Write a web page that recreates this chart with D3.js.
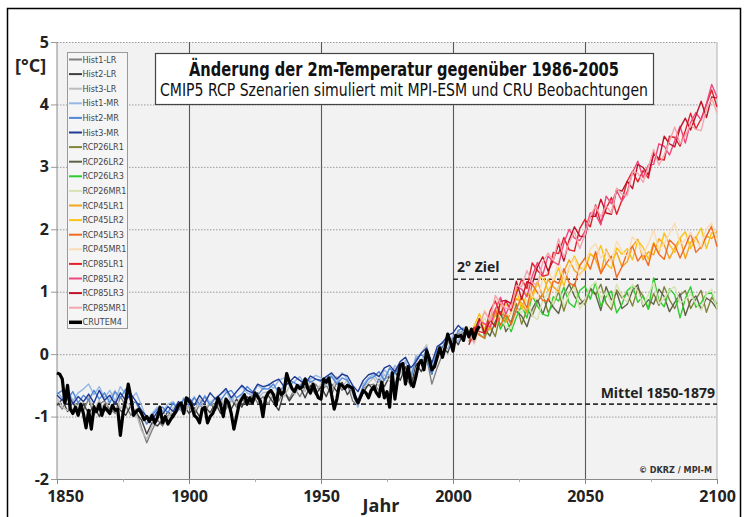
<!DOCTYPE html>
<html>
<head>
<meta charset="utf-8">
<script src="https://cdn.jsdelivr.net/npm/d3@7"></script>
<style>
  body { margin: 0; background: #fff; }
  svg text { font-family: "Open Sans", "DejaVu Sans", sans-serif; }
  .narrow { font-family: "Liberation Sans Narrow", "DejaVu Sans Condensed", "Open Sans", sans-serif !important; }
</style>
</head>
<body>
<svg id="chart" width="747" height="517"></svg>
<script>
// x categories
var histYears = d3.range(1850, 2005, 2);   // 1850..2004
var rcpYears = d3.range(2006, 2101, 2);    // 2006..2100
var obsYears = d3.range(1850, 2011);       // 1850..2010
var xTicks = [1850, 1900, 1950, 2000, 2050, 2100];
var xMinor = [1875, 1925, 1975, 2025, 2075];
var yTicks = [-2, -1, 0, 1, 2, 3, 4, 5];
var zielLevel = 1.2;     // 2° Ziel
var mittelLevel = -0.8;  // Mittel 1850-1879

// CRUTEM4 Beobachtungen (jährlich)
var crutem4 = [
  -0.30, -0.32, -0.40, -0.78, -0.50, -0.88, -0.95, -0.85, -0.98, -0.80,
  -0.95, -1.18, -0.90, -1.20, -0.85, -0.92, -0.80, -0.98, -0.85, -0.90,
  -0.95, -0.82, -0.90, -0.88, -1.30, -0.95, -0.75, -0.48, -0.70, -0.98,
  -0.92, -0.88, -0.95, -1.05, -1.00, -1.08, -0.98, -1.10, -1.02, -0.85,
  -1.10, -1.00, -1.12, -1.05, -0.98, -0.92, -0.82, -0.78, -0.95, -0.70,
  -0.75, -0.82, -0.98, -1.02, -1.10, -0.88, -0.85, -1.10, -1.00, -0.95,
  -0.85, -0.70, -0.82, -1.00, -0.72, -0.78, -0.95, -1.20, -1.00, -0.80,
  -0.72, -0.65, -0.80, -0.70, -0.78, -0.62, -0.68, -0.75, -1.00, -0.70,
  -0.62, -0.58, -0.65, -0.82, -0.55, -0.65, -0.60, -0.31, -0.45, -0.55,
  -0.60, -0.50, -0.55, -0.52, -0.40, -0.55, -0.62, -0.48, -0.60, -0.70,
  -0.72, -0.40, -0.45, -0.38, -0.65, -0.88, -0.72, -0.48, -0.50, -0.55,
  -0.50, -0.52, -0.55, -0.70, -0.78, -0.68, -0.58, -0.62, -0.70, -0.58,
  -0.52, -0.62, -0.68, -0.45, -0.70, -0.60, -0.85, -0.30, -0.72, -0.40,
  -0.18, -0.15, -0.48, -0.20, -0.45, -0.52, -0.35, -0.15, -0.10, -0.25,
   0.05, -0.08, -0.25, -0.20, -0.05,  0.10, -0.05,  0.10,  0.32,  0.20,
   0.05,  0.30,  0.28,  0.30,  0.22,  0.42,  0.28,  0.40,  0.25,  0.38,
   0.45
];

// historische Läufe (alle 2 Jahre, 1850-2004)
var hist1LR = [
  -0.78, -0.88, -0.70, -0.92, -0.78, -0.90, -0.72, -0.98, -0.80, -0.75,
  -0.88, -0.95, -0.68, -0.82, -0.98, -0.88, -1.18, -1.42, -1.22, -1.05,
  -1.15, -0.98, -0.95, -0.85, -0.95, -0.82, -0.98, -0.80, -0.92, -0.78,
  -0.90, -0.75, -0.88, -0.72, -0.85, -0.70, -0.82, -0.65, -0.78, -0.68,
  -0.80, -0.62, -0.75, -0.58, -0.72, -0.55, -0.68, -0.52, -0.65, -0.48,
  -0.60, -0.50, -0.65, -0.45, -0.58, -0.48, -0.75, -0.82, -0.55, -0.50,
  -0.48, -0.58, -0.40, -0.35, -0.48, -0.25, -0.38, -0.50, -0.28, -0.12,
  -0.05, -0.48, -0.22,  0.00,  0.18,  0.20,  0.32,  0.38
];
var hist2LR = [
  -0.82, -0.72, -0.92, -0.76, -0.98, -0.80, -0.95, -0.82, -1.00, -0.80,
  -0.92, -0.75, -0.90, -0.98, -0.82, -0.95, -1.05, -1.28, -1.10, -1.15,
  -1.05, -0.92, -1.02, -0.88, -0.82, -0.95, -0.86, -1.00, -0.84, -0.94,
  -0.78, -0.95, -0.76, -0.88, -0.72, -0.85, -0.68, -0.80, -0.62, -0.84,
  -0.66, -0.78, -0.90, -0.60, -0.75, -0.62, -0.52, -0.70, -0.50, -0.65,
  -0.52, -0.68, -0.48, -0.60, -0.45, -0.65, -0.52, -0.80, -0.62, -0.48,
  -0.58, -0.40, -0.52, -0.35, -0.28, -0.42, -0.20, -0.52, -0.15, -0.28,
  -0.08, -0.32, -0.02,  0.12,  0.02,  0.28,  0.15,  0.35
];
var hist3LR = [
  -0.70, -0.85, -0.90, -0.72, -0.88, -0.76, -0.68, -0.90, -0.74, -0.92,
  -0.70, -0.58, -0.88, -0.76, -0.84, -0.96, -1.22, -1.36, -1.15, -0.98,
  -0.90, -1.04, -0.86, -0.78, -0.98, -0.80, -0.92, -0.72, -0.88, -0.76,
  -0.84, -0.70, -0.82, -0.68, -0.80, -0.66, -0.78, -0.60, -0.72, -0.62,
  -0.60, -0.72, -0.56, -0.68, -0.52, -0.65, -0.48, -0.60, -0.42, -0.58,
  -0.48, -0.40, -0.58, -0.36, -0.52, -0.42, -0.62, -0.78, -0.52, -0.46,
  -0.38, -0.52, -0.32, -0.44, -0.22, -0.32, -0.12, -0.42, -0.08,  0.02,
   0.15, -0.22, -0.08,  0.08,  0.22,  0.12,  0.38,  0.28
];
var hist1MR = [
  -0.60, -0.70, -0.55, -0.75, -0.62, -0.56, -0.48, -0.65, -0.52, -0.70,
  -0.58, -0.75, -0.52, -0.65, -0.72, -0.62, -0.82, -1.05, -0.95, -0.85,
  -0.92, -0.80, -0.76, -0.88, -0.70, -0.80, -0.68, -0.84, -0.66, -0.78,
  -0.70, -0.64, -0.58, -0.76, -0.60, -0.52, -0.62, -0.66, -0.50, -0.56,
  -0.48, -0.55, -0.42, -0.38, -0.50, -0.44, -0.36, -0.48, -0.40, -0.34,
  -0.38, -0.50, -0.32, -0.45, -0.30, -0.40, -0.64, -0.85, -0.48, -0.38,
  -0.32, -0.45, -0.25, -0.35, -0.18, -0.28, -0.10, -0.35, -0.02, -0.12,
   0.08, -0.18,  0.05,  0.20,  0.08,  0.30,  0.20,  0.42
];
var hist2MR = [
  -0.64, -0.58, -0.72, -0.60, -0.78, -0.66, -0.74, -0.58, -0.72, -0.62,
  -0.78, -0.60, -0.70, -0.56, -0.75, -0.78, -0.96, -1.12, -0.98, -0.88,
  -0.85, -0.94, -0.78, -0.90, -0.72, -0.82, -0.70, -0.80, -0.68, -0.82,
  -0.70, -0.74, -0.62, -0.58, -0.70, -0.64, -0.52, -0.60, -0.66, -0.55,
  -0.56, -0.48, -0.62, -0.50, -0.42, -0.46, -0.52, -0.38, -0.45, -0.40,
  -0.44, -0.40, -0.36, -0.48, -0.38, -0.42, -0.58, -0.74, -0.52, -0.40,
  -0.36, -0.28, -0.42, -0.22, -0.32, -0.15, -0.28, -0.38, -0.08,  0.00,
  -0.10, -0.32,  0.08,  0.12,  0.25,  0.16,  0.38,  0.42
];
var hist3MR = [
  -0.66, -0.74, -0.60, -0.80, -0.68, -0.76, -0.64, -0.78, -0.58, -0.74,
  -0.66, -0.80, -0.62, -0.74, -0.64, -0.76, -0.90, -1.00, -1.06, -0.92,
  -0.96, -0.84, -0.92, -0.76, -0.84, -0.70, -0.82, -0.66, -0.78, -0.62,
  -0.72, -0.64, -0.55, -0.70, -0.60, -0.50, -0.58, -0.62, -0.48, -0.52,
  -0.50, -0.44, -0.40, -0.52, -0.45, -0.36, -0.42, -0.48, -0.35, -0.40,
  -0.42, -0.36, -0.30, -0.40, -0.32, -0.35, -0.50, -0.60, -0.42, -0.33,
  -0.30, -0.36, -0.22, -0.18, -0.28, -0.12, -0.05, -0.22, -0.12,  0.02,
   0.10, -0.14,  0.12,  0.18,  0.30,  0.34,  0.46,  0.38
];

// RCP Szenarien (alle 2 Jahre, 2006-2100)
var rcp26LR1 = [
  0.20, 0.38, 0.57, 0.28, 0.45, 0.28, 0.65, 0.61, 0.51, 0.81,
  0.48, 0.71, 0.61, 0.84, 0.96, 0.67, 0.80, 1.00, 0.69, 0.97,
  1.13, 0.89, 0.79, 1.03, 0.95, 1.12, 0.82, 0.71, 1.03, 0.90,
  0.98, 0.77, 1.06, 0.93, 0.72, 0.97, 0.78, 1.08, 0.87, 0.73,
  0.94, 1.02, 0.73, 0.88, 1.02, 0.67, 0.91, 0.80
];
var rcp26LR2 = [
  0.38, 0.23, 0.50, 0.40, 0.29, 0.52, 0.68, 0.36, 0.49, 0.69,
  0.61, 0.44, 0.72, 0.88, 0.64, 0.89, 0.75, 0.65, 0.95, 1.12,
  0.93, 0.80, 0.87, 1.06, 0.96, 0.70, 1.08, 0.87, 0.99, 0.73,
  0.80, 1.02, 1.11, 0.76, 0.87, 0.80, 1.04, 0.92, 0.68, 0.83,
  0.97, 0.62, 0.86, 0.93, 0.72, 0.90, 0.84, 0.72
];
var rcp26LR3 = [
  0.30, 0.43, 0.32, 0.25, 0.55, 0.66, 0.40, 0.58, 0.36, 0.59,
  0.78, 0.58, 0.94, 0.77, 0.64, 0.61, 0.92, 0.85, 1.07, 0.82,
  0.75, 1.02, 1.09, 0.88, 1.15, 0.77, 0.92, 1.01, 0.66, 0.80,
  1.02, 1.09, 0.83, 0.93, 0.72, 1.22, 0.86, 0.76, 1.05, 0.95,
  0.58, 0.89, 1.08, 0.75, 0.82, 0.97, 0.98, 0.75
];
var rcp26MR1 = [
  0.38, 0.16, 0.40, 0.58, 0.38, 0.74, 0.58, 0.44, 0.41, 0.72,
  0.66, 0.87, 0.62, 0.55, 0.87, 0.97, 0.80, 1.10, 0.77, 0.95,
  1.08, 0.72, 0.87, 1.08, 1.16, 0.90, 1.00, 0.79, 1.12, 0.93,
  0.83, 1.12, 1.01, 0.79, 0.95, 1.15, 0.81, 0.89, 1.03, 1.08,
  0.82, 0.87, 0.96, 0.81, 0.70, 0.97, 1.04, 0.73
];
var rcp45LR1 = [
  0.40, 0.27, 0.55, 0.48, 0.39, 0.64, 0.81, 0.51, 0.67, 0.89,
  0.82, 0.67, 0.97, 1.16, 0.93, 1.20, 1.08, 1.00, 1.32, 1.51,
  1.34, 1.27, 1.39, 1.61, 1.52, 1.29, 1.68, 1.50, 1.63, 1.40,
  1.48, 1.73, 1.84, 1.51, 1.64, 1.59, 1.85, 1.75, 1.53, 1.70,
  1.86, 1.53, 1.79, 1.88, 1.69, 1.89, 1.85, 1.97
];
var rcp45LR2 = [
  0.25, 0.45, 0.65, 0.39, 0.58, 0.43, 0.81, 0.79, 0.72, 1.04,
  0.72, 0.97, 0.89, 1.15, 1.28, 1.01, 1.16, 1.38, 1.09, 1.39,
  1.57, 1.39, 1.34, 1.61, 1.54, 1.74, 1.45, 1.37, 1.70, 1.60,
  1.69, 1.51, 1.82, 1.71, 1.52, 1.79, 1.62, 1.94, 1.75, 1.63,
  1.86, 1.96, 1.69, 1.86, 2.02, 1.69, 1.95, 1.87
];
var rcp45LR3 = [
  0.25, 0.40, 0.30, 0.26, 0.58, 0.71, 0.46, 0.66, 0.47, 0.72,
  0.92, 0.74, 1.12, 0.98, 0.86, 0.85, 1.18, 1.13, 1.37, 1.14,
  1.09, 1.42, 1.54, 1.36, 1.64, 1.29, 1.45, 1.57, 1.23, 1.40,
  1.63, 1.73, 1.49, 1.61, 1.42, 1.77, 1.60, 1.52, 1.83, 1.75,
  1.54, 1.73, 1.94, 1.63, 1.72, 1.89, 2.05, 1.72
];
var rcp45MR1 = [
  0.45, 0.25, 0.50, 0.71, 0.53, 0.91, 0.76, 0.64, 0.64, 0.97,
  0.92, 1.15, 0.92, 0.88, 1.21, 1.33, 1.18, 1.50, 1.19, 1.39,
  1.54, 1.24, 1.44, 1.68, 1.77, 1.54, 1.65, 1.47, 1.81, 1.65,
  1.56, 1.88, 1.79, 1.59, 1.77, 1.99, 1.67, 1.77, 1.93, 2.10,
  1.76, 1.83, 1.94, 1.81, 1.72, 2.01, 2.10, 1.82
];
var rcp85LR1 = [
  0.25, 0.43, 0.36, 0.34, 0.69, 0.85, 0.63, 0.86, 0.69, 0.97,
  1.20, 1.05, 1.46, 1.34, 1.25, 1.27, 1.63, 1.61, 1.87, 1.67,
  1.65, 2.01, 2.16, 2.04, 2.39, 2.10, 2.33, 2.51, 2.24, 2.47,
  2.77, 2.93, 2.76, 2.94, 2.82, 3.23, 3.13, 3.11, 3.49, 3.47,
  3.33, 3.58, 3.86, 3.61, 3.77, 4.00, 4.23, 3.96
];
var rcp85LR2 = [
  0.32, 0.22, 0.53, 0.49, 0.43, 0.71, 0.91, 0.64, 0.83, 1.08,
  1.04, 0.92, 1.25, 1.47, 1.27, 1.57, 1.48, 1.43, 1.78, 2.00,
  1.86, 1.82, 1.97, 2.26, 2.24, 2.07, 2.53, 2.41, 2.62, 2.45,
  2.60, 2.91, 3.09, 2.83, 3.03, 3.04, 3.37, 3.33, 3.19, 3.42,
  3.65, 3.38, 3.71, 3.87, 3.75, 4.01, 4.32, 4.12
];
var rcp85LR3 = [
  0.15, 0.33, 0.57, 0.33, 0.55, 0.44, 0.85, 0.86, 0.81, 1.17,
  0.88, 1.16, 1.12, 1.40, 1.56, 1.33, 1.51, 1.76, 1.49, 1.83,
  2.04, 1.89, 1.88, 2.21, 2.21, 2.48, 2.26, 2.24, 2.64, 2.61,
  2.77, 2.65, 3.04, 2.99, 2.87, 3.21, 3.11, 3.49, 3.37, 3.32,
  3.62, 3.78, 3.59, 3.82, 4.05, 3.79, 4.12, 4.10
];
var rcp85MR1 = [
  0.35, 0.18, 0.46, 0.68, 0.53, 0.94, 0.82, 0.73, 0.74, 1.10,
  1.08, 1.34, 1.14, 1.11, 1.47, 1.62, 1.50, 1.85, 1.55, 1.78,
  1.96, 1.69, 1.92, 2.21, 2.37, 2.20, 2.38, 2.26, 2.66, 2.56,
  2.54, 2.92, 2.90, 2.75, 3.00, 3.28, 3.03, 3.19, 3.41, 3.64,
  3.37, 3.50, 3.68, 3.60, 3.58, 3.93, 4.09, 3.87
];

// Reihenfolge wie in der Legende
var series = [
  { name: "Hist1-LR",  years: histYears, values: hist1LR,  color: "#7f7f7f" },
  { name: "Hist2-LR",  years: histYears, values: hist2LR,  color: "#3f3f3f" },
  { name: "Hist3-LR",  years: histYears, values: hist3LR,  color: "#bdbdbd" },
  { name: "Hist1-MR",  years: histYears, values: hist1MR,  color: "#95b8e6" },
  { name: "Hist2-MR",  years: histYears, values: hist2MR,  color: "#4f88d8" },
  { name: "Hist3-MR",  years: histYears, values: hist3MR,  color: "#1f3a93" },
  { name: "RCP26LR1",  years: rcpYears,  values: rcp26LR1, color: "#838338" },
  { name: "RCP26LR2",  years: rcpYears,  values: rcp26LR2, color: "#5e6247" },
  { name: "RCP26LR3",  years: rcpYears,  values: rcp26LR3, color: "#2ecc2e" },
  { name: "RCP26MR1",  years: rcpYears,  values: rcp26MR1, color: "#d7e4b0" },
  { name: "RCP45LR1",  years: rcpYears,  values: rcp45LR1, color: "#f7a21c" },
  { name: "RCP45LR2",  years: rcpYears,  values: rcp45LR2, color: "#fbc314" },
  { name: "RCP45LR3",  years: rcpYears,  values: rcp45LR3, color: "#f26a22" },
  { name: "RCP45MR1",  years: rcpYears,  values: rcp45MR1, color: "#fbdcb4" },
  { name: "RCP85LR1",  years: rcpYears,  values: rcp85LR1, color: "#e3202b" },
  { name: "RCP85LR2",  years: rcpYears,  values: rcp85LR2, color: "#f0467f" },
  { name: "RCP85LR3",  years: rcpYears,  values: rcp85LR3, color: "#bf1428" },
  { name: "RCP85MR1",  years: rcpYears,  values: rcp85MR1, color: "#f2a6ae" },
  { name: "CRUTEM4",   years: obsYears,  values: crutem4,  color: "#000000", thick: true }
];

var svg = d3.select("#chart");
var plotL = 57, plotR = 717, plotT = 42, plotB = 479;

var x = d3.scaleLinear().domain([1850, 2100]).range([plotL, plotR]);
var y = d3.scaleLinear().domain([-2, 5]).range([plotB, plotT]);
var fmt = function (d) { return String(d); };   // einfacher Bindestrich als Minus

// Rahmen
svg.append("rect").attr("x", 7.5).attr("y", 8.5).attr("width", 733).attr("height", 530)
  .attr("fill", "none").attr("stroke", "#000").attr("stroke-width", 1.5);

// Plotfläche
svg.append("rect").attr("x", plotL).attr("y", plotT).attr("width", plotR - plotL).attr("height", plotB - plotT)
  .attr("fill", "#f2f2f2");

// horizontale Gitterlinien (gepunktet)
svg.append("g")
  .attr("transform", "translate(" + plotL + ",0)")
  .call(d3.axisLeft(y).tickValues(yTicks.filter(function (v) { return v > -2; })).tickSize(-(plotR - plotL)).tickFormat(""))
  .call(function (g) {
    g.select(".domain").remove();
    g.selectAll("line").attr("stroke", "#9a9a9a").attr("stroke-dasharray", "1.5,1.5");
  });

// vertikale Gitterlinien
svg.append("g")
  .attr("transform", "translate(0," + plotB + ")")
  .call(d3.axisBottom(x).tickValues([1900, 1950, 2000, 2050]).tickSize(-(plotB - plotT)).tickFormat(""))
  .call(function (g) {
    g.select(".domain").remove();
    g.selectAll("line").attr("stroke", "#5a5a5a").attr("stroke-width", 1.1);
  });

// Rand links/rechts
svg.append("line").attr("x1", plotL).attr("x2", plotL).attr("y1", plotT).attr("y2", plotB).attr("stroke", "#8a8a8a");
svg.append("line").attr("x1", plotR).attr("x2", plotR).attr("y1", plotT).attr("y2", plotB).attr("stroke", "#b0b0b0");

// y-Achse
svg.append("g")
  .attr("transform", "translate(" + plotL + ",0)")
  .call(d3.axisLeft(y).tickValues(yTicks).tickSize(6).tickPadding(2).tickFormat(fmt))
  .call(function (g) {
    g.select(".domain").remove();
    g.selectAll("line").attr("stroke", "#9a9a9a");
    g.selectAll("text").attr("font-size", 16).attr("font-weight", "bold").attr("fill", "#222")
      .style("font-family", "'Open Sans', sans-serif");
  });

// x-Achse
svg.append("g")
  .attr("transform", "translate(0," + plotB + ")")
  .call(d3.axisBottom(x).tickValues(xTicks).tickSize(5).tickPadding(7).tickFormat(fmt))
  .call(function (g) {
    g.select(".domain").attr("stroke", "#8a8a8a");
    g.selectAll("line").attr("stroke", "#8a8a8a");
    g.selectAll("text").attr("font-size", 16).attr("font-weight", "bold").attr("fill", "#222")
      .style("font-family", "'Open Sans', sans-serif")
      .attr("dx", function (d) { return d === 1850 ? 8 : 0; });
  });
svg.append("g")
  .attr("transform", "translate(0," + plotB + ")")
  .call(d3.axisBottom(x).tickValues(xMinor).tickSize(3).tickFormat(""))
  .call(function (g) {
    g.select(".domain").remove();
    g.selectAll("line").attr("stroke", "#aaa");
  });

// Referenzlinien
svg.append("line").attr("x1", x(2000)).attr("x2", x(2100)).attr("y1", y(zielLevel)).attr("y2", y(zielLevel))
  .attr("stroke", "#333").attr("stroke-width", 1.6).attr("stroke-dasharray", "5,3");
svg.append("line").attr("x1", x(1850)).attr("x2", x(2100)).attr("y1", y(mittelLevel)).attr("y2", y(mittelLevel))
  .attr("stroke", "#333").attr("stroke-width", 1.6).attr("stroke-dasharray", "5,3");

// Linien
var line = d3.line()
  .x(function (d) { return x(d[0]); })
  .y(function (d) { return y(d[1]); });

svg.append("g").selectAll("path")
  .data(series)
  .enter()
  .append("path")
  .attr("d", function (s) { return line(s.values.map(function (v, i) { return [s.years[i], v]; })); })
  .attr("fill", "none")
  .attr("stroke", function (s) { return s.color; })
  .attr("stroke-width", function (s) { return s.thick ? 3.2 : 1.4; })
  .attr("stroke-linejoin", "round");

// Texte
svg.append("text").attr("x", 15).attr("y", 72).text("[°C]")
  .attr("font-size", 18).attr("font-weight", "bold").attr("fill", "#222");
svg.append("text").attr("x", 381).attr("y", 512).attr("text-anchor", "middle").text("Jahr")
  .attr("font-size", 18).attr("font-weight", "bold").attr("fill", "#222");
svg.append("text").attr("x", 457).attr("y", 272).text("2° Ziel")
  .attr("font-size", 14).attr("font-weight", "bold").attr("fill", "#222");
svg.append("text").attr("x", 715).attr("y", 398).attr("text-anchor", "end").text("Mittel 1850-1879")
  .attr("font-size", 14).attr("font-weight", "bold").attr("fill", "#222");
svg.append("text").attr("x", 712).attr("y", 473).attr("text-anchor", "end").text("© DKRZ / MPI-M")
  .attr("class", "narrow").attr("font-size", 9).attr("font-weight", "bold").attr("fill", "#333");

// Titelbox
svg.append("rect").attr("x", 155.5).attr("y", 53.5).attr("width", 498).attr("height", 51)
  .attr("fill", "#fff").attr("stroke", "#444").attr("stroke-width", 1.2);
svg.append("text").attr("x", 404).attr("y", 76).attr("text-anchor", "middle")
  .attr("class", "narrow").attr("font-size", 20).attr("font-weight", "bold").attr("fill", "#111")
  .attr("textLength", 430).attr("lengthAdjust", "spacingAndGlyphs")
  .text("Änderung der 2m-Temperatur gegenüber 1986-2005");
svg.append("text").attr("x", 404).attr("y", 96).attr("text-anchor", "middle")
  .attr("class", "narrow").attr("font-size", 17).attr("fill", "#111")
  .attr("textLength", 488).attr("lengthAdjust", "spacingAndGlyphs")
  .text("CMIP5 RCP Szenarien simuliert mit MPI-ESM und CRU Beobachtungen");

// Legende
var legend = svg.append("g");
legend.append("rect").attr("x", 67.5).attr("y", 52.5).attr("width", 60).attr("height", 276)
  .attr("fill", "#f5f5f5").attr("stroke", "#9a9a9a");
var item = legend.selectAll("g.item")
  .data(series)
  .enter()
  .append("g")
  .attr("class", "item")
  .attr("transform", function (s, i) { return "translate(69," + (59.5 + i * 14.6) + ")"; });
item.append("line").attr("x1", 0).attr("x2", 13).attr("y1", 0).attr("y2", 0)
  .attr("stroke", function (s) { return s.color; })
  .attr("stroke-width", function (s) { return s.thick ? 3.5 : 2; });
item.append("text").attr("x", 13.5).attr("y", 3)
  .attr("class", "narrow").attr("font-size", 9).attr("fill", "#444")
  .text(function (s) { return s.name; });
</script>
</body>
</html>
